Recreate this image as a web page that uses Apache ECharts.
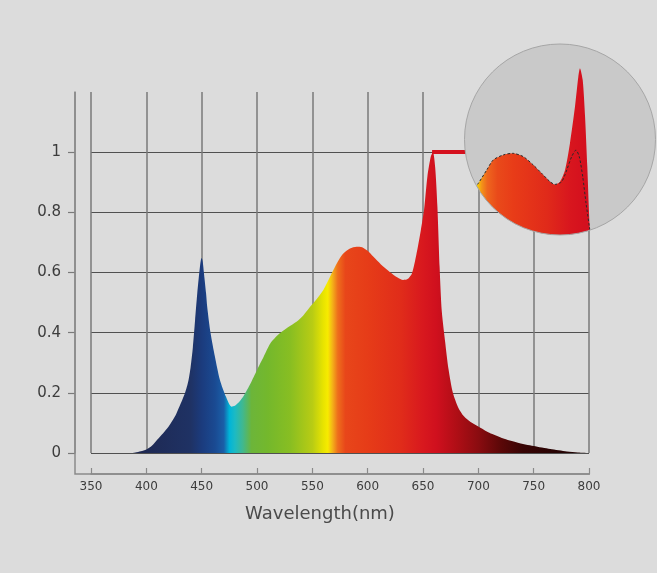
<!DOCTYPE html>
<html>
<head>
<meta charset="utf-8">
<script src="https://cdn.jsdelivr.net/npm/echarts@6/dist/echarts.min.js"></script>
<style>
html,body{margin:0;padding:0;background:#dcdcdc;}
#chart{width:657px;height:573px;}
</style>
</head>
<body>
<div id="chart"></div>
<script>
// ---------- data ----------
const xTicks = [350, 400, 450, 500, 550, 600, 650, 700, 750, 800];
const yTicks = [0, 0.2, 0.4, 0.6, 0.8, 1];
const wavelengths = [350,385,390,395,400,405,410,415,420,427,435,438,440,442,444,446,448,449.2,450,451,452,454,455,458,462,466.5,472,477,480,484,488,494,500,506,512,520,528,536,542,548,554,560,565,569,574,578,584,590,595,600,605,612,620,627,632,636,640,644,648,651,654,657,659,661,663,665,667,670,673,677,682,687,693,700,710,722,735,750,765,780,790,800];
const intensity = [0,0,0.002,0.006,0.012,0.024,0.045,0.065,0.087,0.13,0.2,0.24,0.285,0.35,0.44,0.53,0.605,0.64,0.648,0.635,0.6,0.53,0.486,0.4,0.32,0.243,0.187,0.154,0.157,0.17,0.19,0.23,0.276,0.32,0.364,0.396,0.418,0.437,0.458,0.486,0.512,0.542,0.578,0.608,0.642,0.663,0.68,0.686,0.684,0.672,0.653,0.627,0.602,0.583,0.575,0.578,0.597,0.66,0.74,0.81,0.92,0.985,1.0,0.95,0.82,0.62,0.47,0.37,0.28,0.2,0.15,0.122,0.103,0.088,0.067,0.049,0.035,0.023,0.013,0.005,0.002,0];
// inset (magnified) spectrum, enhanced red
const insetWl = [552,558,565,572.8,578.9,588.3,597.6,607,616.3,624.1,631.9,636.5,641.2,645.9,650.5,655.2,658.3,659.9,662.4,664.6,666.7,669.2,672];
const insetVal = [0.17,0.22,0.272,0.34,0.392,0.418,0.426,0.409,0.366,0.323,0.28,0.266,0.28,0.34,0.478,0.667,0.821,0.864,0.804,0.615,0.357,0.031,-0.1];
// inset dashed reference spectrum
const refWl = [552,558,565,572.8,578.9,588.3,597.6,607,616.3,624.1,631.9,636.5,642.8,647.5,652.1,656.1,659.2,662.4,665.5,668.6,671];
const refVal = [0.17,0.22,0.272,0.34,0.392,0.418,0.426,0.409,0.366,0.323,0.28,0.266,0.28,0.34,0.409,0.443,0.409,0.306,0.169,0.048,-0.05];
// spectrum colour stops (wavelength, colour)
const colorWl = [390,440,450,462,470,475,480,487,495,510,530,550,560,564,568,573,580,600,630,650,662,680,700,720,740,770,800];
const colorHex = ['#1e2750','#1f3264','#1b3b7d','#1a4a92','#1a5fa8','#00b4d8','#1cbac4','#40b890','#6cb53a','#74b82c','#88be22','#b8cc14','#e8e400','#f7eb00','#f4b418','#ee6e1c','#e8461a','#e63c18','#e02c1a','#d8181e','#d0101e','#b00e16','#8a0c10','#5c0808','#380505','#280404','#200303'];
const insetColorWl = [552,566,569,572,577,586,600,630,650,662];
const insetColorHex = ['#f8ec00','#f8e800','#f6c208','#f39418','#ee661e','#e94a1a','#e83c18','#e02a1a','#d8161e','#d4101e'];

// ---------- layout ----------
const GRID = {left: 91, top: 92, right: 68, bottom: 120};
const W = 657, H = 573;
const X_OFF = 21, Y_OFF = 16;
const CIRCLE = {cx: 560, cy: 139.5, r: 95.5};
const INSET_GRID = {left: 473, top: 42, width: 150, height: 194};

const xMin = xTicks[0], xMax = xTicks[xTicks.length - 1];
const mainData = wavelengths.map((w, i) => [w, intensity[i]]);
const mainStops = colorWl.map((w, i) => ({offset: (w - xMin) / (xMax - xMin), color: colorHex[i]}));

const chart = echarts.init(document.getElementById('chart'), null, {renderer: 'canvas'});
const FONT = 'DejaVu Sans';

const gx0 = GRID.left - Y_OFF, gy1 = H - GRID.bottom + X_OFF;

const option = {
  backgroundColor: '#dcdcdc',
  animation: false,
  grid: [
    {left: GRID.left, top: GRID.top, right: GRID.right, bottom: GRID.bottom},
    {left: INSET_GRID.left, top: INSET_GRID.top, width: INSET_GRID.width, height: INSET_GRID.height}
  ],
  xAxis: [
    {
      type: 'value', gridIndex: 0, min: xMin, max: xMax, interval: 50, offset: X_OFF,
      name: 'Wavelength(nm)', nameLocation: 'middle', nameGap: 31,
      nameTextStyle: {fontFamily: FONT, fontSize: 18, color: '#4a4a4a', padding: [0, 40, 0, 0]},
      axisLine: {show: true, onZero: false, lineStyle: {color: '#8a8a8a', width: 1.5}},
      axisTick: {show: true, inside: true, length: 6, lineStyle: {color: '#8a8a8a', width: 1.2}},
      axisLabel: {fontFamily: FONT, fontSize: 12, color: '#3c3c3c', margin: 7},
      splitLine: {show: true, lineStyle: {color: '#7a7a7a', width: 1.5}}
    },
    {type: 'value', gridIndex: 1, min: 560, max: 700, show: false}
  ],
  yAxis: [
    {
      type: 'value', gridIndex: 0, min: 0, max: 1.2, interval: 0.2, offset: Y_OFF,
      axisLine: {show: true, lineStyle: {color: '#8a8a8a', width: 1.5}},
      axisTick: {show: true, length: 7, customValues: yTicks, lineStyle: {color: '#7a7a7a', width: 1.2}},
      axisLabel: {fontFamily: FONT, fontSize: 15, color: '#3c3c3c', margin: 14, customValues: yTicks,
        formatter: v => (yTicks.some(t => Math.abs(t - v) < 1e-9) ? String(+v.toFixed(1)) : '')},
      splitLine: {show: true, lineStyle: {color: '#505050', width: 1}}
    },
    {type: 'value', gridIndex: 1, min: 0, max: 1, show: false}
  ],
  graphic: [
    {type: 'polyline', z: 1, silent: true,
     shape: {points: [[gx0, GRID.top], [gx0, gy1], [W - GRID.right + 1, gy1]]},
     style: {stroke: '#8a8a8a', lineWidth: 1.5, fill: null}}
  ],
  series: [
    {
      type: 'line', xAxisIndex: 0, yAxisIndex: 0, data: mainData, z: 2,
      symbol: 'none', smooth: 0.25, showSymbol: false,
      lineStyle: {width: 0},
      areaStyle: {opacity: 1, color: new echarts.graphic.LinearGradient(0, 0, 1, 0, mainStops)},
      markLine: {
        silent: true, symbol: 'none', animation: false,
        label: {show: false},
        lineStyle: {color: '#d5101e', width: 4, type: 'solid'},
        data: [[{coord: [658.2, 1]}, {coord: [692, 1]}]]
      }
    },
    {
      type: 'custom', xAxisIndex: 1, yAxisIndex: 1, z: 10, clip: false,
      data: [0],
      renderItem: function (params, api) {
        const fillPts = insetWl.map((w, i) => api.coord([w, insetVal[i]]));
        const base0 = api.coord([insetWl[0], -0.2]);
        const base1 = api.coord([insetWl[insetWl.length - 1], -0.2]);
        fillPts.push(base1); fillPts.push(base0);
        const refPts = refWl.map((w, i) => api.coord([w, refVal[i]]));
        const a = insetWl[0], b = insetWl[insetWl.length - 1];
        const stops = insetColorWl.map((w, i) => ({offset: (w - a) / (b - a), color: insetColorHex[i]}));
        const clip = {type: 'circle', shape: {cx: CIRCLE.cx, cy: CIRCLE.cy, r: CIRCLE.r}};
        return {
          type: 'group',
          children: [
            {type: 'circle', shape: {cx: CIRCLE.cx, cy: CIRCLE.cy, r: CIRCLE.r}, style: {fill: '#c9c9c9', stroke: null}},
            {type: 'polygon', shape: {points: fillPts, smooth: 0.25}, clipPath: clip,
             style: {fill: new echarts.graphic.LinearGradient(0, 0, 1, 0, stops), stroke: null}},
            {type: 'polyline', shape: {points: refPts, smooth: 0.25}, clipPath: clip,
             style: {fill: null, stroke: '#2a2a2a', lineWidth: 1, lineDash: [2.5, 2]}},
            {type: 'circle', shape: {cx: CIRCLE.cx, cy: CIRCLE.cy, r: CIRCLE.r}, style: {fill: null, stroke: '#a6a6a6', lineWidth: 1}}
          ]
        };
      }
    }
  ]
};
chart.setOption(option);
</script>
</body>
</html>
